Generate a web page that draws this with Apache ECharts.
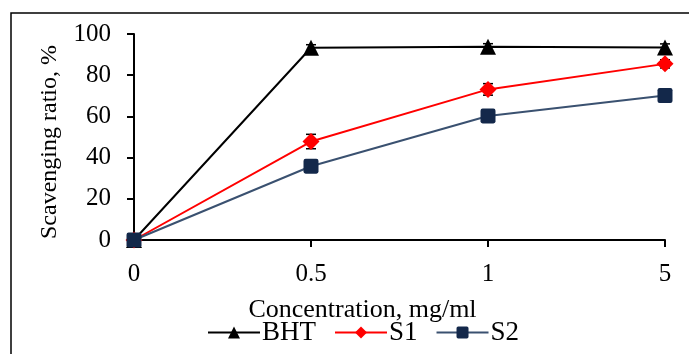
<!DOCTYPE html>
<html><head><meta charset="utf-8">
<script src="https://cdn.jsdelivr.net/npm/echarts@6/dist/echarts.min.js"></script>
<style>html,body{margin:0;padding:0;background:#fff}#c{width:689px;height:354px}</style>
</head><body><div id="c"></div>
<script>
var categories = ['0', '0.5', '1', '5'];
var bhtValues = [0, 93.3, 93.8, 93.4];
var s1Values = [0, 47.8, 73.1, 85.5];
var s2Values = [0, 35.8, 60.2, 70.1];
var bhtErr = [0, 1.5, 1.5, 1.8];
var s1Err = [0, 3.5, 2.8, 2.0];
var s2Err = [0, 1.5, 1.5, 1.5];
var yTicks = [0, 20, 40, 60, 80, 100];

var FONT = "'Liberation Serif', 'Times New Roman', serif";
function errSeries(vals, errs, z) {
  return {
    type: 'custom', silent: true, z: z,
    data: vals.map(function (v, i) { return [i, v - errs[i], v + errs[i]]; }),
    renderItem: function (params, api) {
      var lo = api.coord([api.value(0), api.value(1)]);
      var hi = api.coord([api.value(0), api.value(2)]);
      var w = 5;
      var st = { stroke: '#000', lineWidth: 1.5 };
      return { type: 'group', children: [
        { type: 'line', shape: { x1: lo[0], y1: lo[1], x2: hi[0], y2: hi[1] }, style: st },
        { type: 'line', shape: { x1: lo[0] - w, y1: lo[1], x2: lo[0] + w, y2: lo[1] }, style: st },
        { type: 'line', shape: { x1: hi[0] - w, y1: hi[1], x2: hi[0] + w, y2: hi[1] }, style: st }
      ]};
    }
  };
}
var chart = echarts.init(document.getElementById('c'));
chart.setOption({
  animation: false,
  textStyle: { fontFamily: FONT },
  grid: { left: 134, right: 24, top: 34, bottom: 114 },
  graphic: [{ type: 'rect', shape: { x: 11, y: 13, width: 720, height: 400 }, style: { fill: 'none', stroke: '#000', lineWidth: 1.5 }, z: -1 }],
  legend: {
    bottom: 3, left: 202, itemWidth: 52, itemHeight: 15, itemGap: 18,
    textStyle: { fontFamily: FONT, fontSize: 27, color: '#000', padding: [0, 0, 0, -3] },
    data: ['BHT', 'S1', 'S2']
  },
  xAxis: {
    type: 'category', data: categories, boundaryGap: false,
    name: 'Concentration, mg/ml', nameLocation: 'middle', nameGap: 57,
    nameTextStyle: { fontFamily: FONT, fontSize: 26, color: '#000', padding: [0, 74, 0, 0] },
    axisLine: { lineStyle: { color: '#000', width: 2 } },
    axisTick: { show: true, length: 7, lineStyle: { color: '#000', width: 2 } },
    axisLabel: { fontFamily: FONT, fontSize: 25, color: '#000', margin: 22 },
    splitLine: { show: false }
  },
  yAxis: {
    type: 'value', min: 0, max: 100, interval: 20,
    name: 'Scavenging ratio, %', nameLocation: 'middle', nameGap: 72,
    nameTextStyle: { fontFamily: FONT, fontSize: 24, color: '#000', padding: [0, 10, 0, 0] },
    axisLine: { show: true, lineStyle: { color: '#000', width: 2 } },
    axisTick: { show: true, length: 7, lineStyle: { color: '#000', width: 2 } },
    axisLabel: { fontFamily: FONT, fontSize: 25, color: '#000', margin: 23,
      formatter: function (v) { return yTicks.indexOf(v) >= 0 ? String(v) : ''; } },
    splitLine: { show: false }
  },
  series: [
    errSeries(bhtValues, bhtErr, 1),
    errSeries(s1Values, s1Err, 1),
    errSeries(s2Values, s2Err, 1),
    { name: 'BHT', type: 'line', data: bhtValues, symbol: 'triangle', symbolSize: 16, z: 3,
      lineStyle: { color: '#000', width: 2 }, itemStyle: { color: '#000' } },
    { name: 'S1', type: 'line', data: s1Values, symbol: 'diamond', symbolSize: 17, z: 4,
      lineStyle: { color: '#ff0000', width: 2 }, itemStyle: { color: '#ff0000' } },
    { name: 'S2', type: 'line', data: s2Values, symbol: 'path://M2,0 H12 A2,2 0 0 1 14,2 V12 A2,2 0 0 1 12,14 H2 A2,2 0 0 1 0,12 V2 A2,2 0 0 1 2,0 Z', symbolSize: 15, z: 5,
      lineStyle: { color: '#3a5170', width: 2 }, itemStyle: { color: '#13284a' } }
  ]
});
</script></body></html>
